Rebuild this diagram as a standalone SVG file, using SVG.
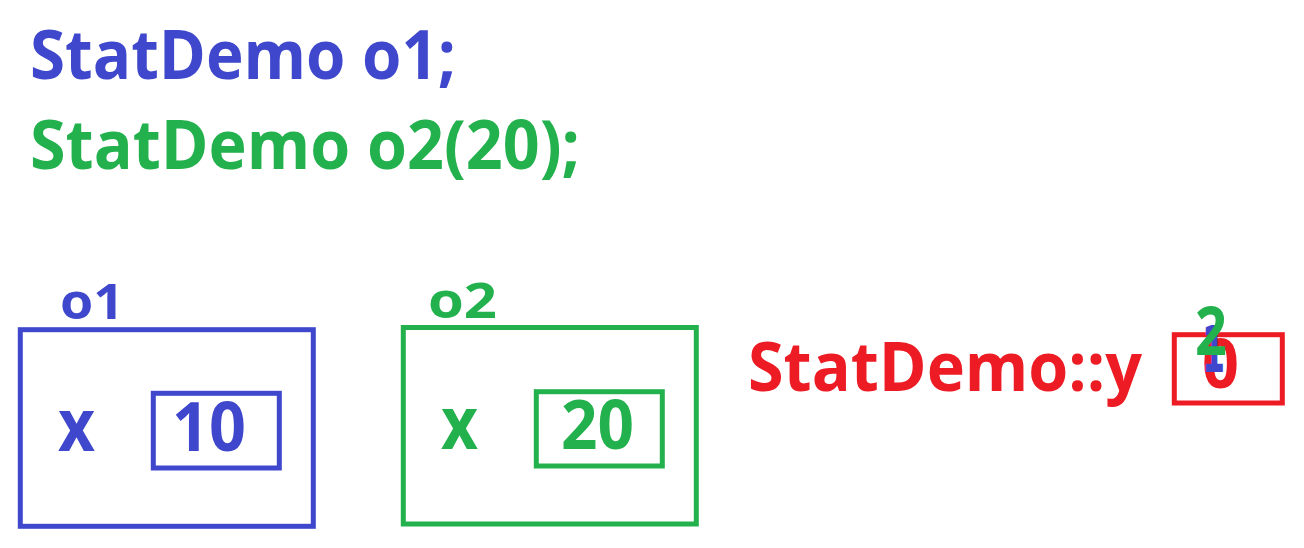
<svg xmlns="http://www.w3.org/2000/svg" width="1304" height="548" viewBox="0 0 1304 548">
<style>
text{font-family:"Open Sans","DejaVu Sans",sans-serif;font-weight:bold}
.b{fill:#3F48CC}.g{fill:#22B14C}.r{fill:#ED1C24}
.bx{fill:none;stroke-width:5}
.sb{stroke:#3F48CC}.sg{stroke:#22B14C}.sr{stroke:#ED1C24}
.big{font-size:68px}.lab{font-size:48px}
</style>
<rect width="1304" height="548" fill="#fff"/>
<g id="code">
<text class="b big" x="30" y="79" textLength="426" lengthAdjust="spacingAndGlyphs">StatDemo o1;</text>
<text class="g big" x="30" y="169" textLength="550" lengthAdjust="spacingAndGlyphs">StatDemo o2(20);</text>
</g>
<g id="o1">
<text class="b lab" x="60" y="319" textLength="64" lengthAdjust="spacingAndGlyphs">o1</text>
<rect class="bx sb" x="20.3" y="329.7" width="293" height="196.6"/>
<text class="b" x="58" y="451" font-size="74" textLength="37" lengthAdjust="spacingAndGlyphs">x</text>
<rect class="bx sb" x="153.3" y="393.3" width="126" height="74.7"/>
<text class="b big" x="172" y="451" textLength="74" lengthAdjust="spacingAndGlyphs">10</text>
</g>
<g id="o2">
<text class="g lab" x="428" y="318" textLength="69" lengthAdjust="spacingAndGlyphs">o2</text>
<rect class="bx sg" x="403.3" y="327.5" width="293" height="196.5"/>
<text class="g" x="441" y="449" font-size="74" textLength="37" lengthAdjust="spacingAndGlyphs">x</text>
<rect class="bx sg" x="536.3" y="391.7" width="126" height="74.3"/>
<text class="g big" x="561" y="449" textLength="73" lengthAdjust="spacingAndGlyphs">20</text>
</g>
<g id="static">
<text class="r big" x="748" y="391" textLength="394" lengthAdjust="spacingAndGlyphs">StatDemo::y</text>
<rect class="bx sr" x="1174.3" y="334.7" width="108" height="68.3"/>
<text class="r big" x="1202" y="388" textLength="37" lengthAdjust="spacingAndGlyphs">0</text>
<text class="b" x="1202" y="372" font-size="64" style="font-family:'DejaVu Sans',sans-serif" textLength="23" lengthAdjust="spacingAndGlyphs">1</text>
<text class="g" x="1195" y="355" font-size="66" textLength="32" lengthAdjust="spacingAndGlyphs">2</text>
</g>
<g id="connectors"/>
</svg>
